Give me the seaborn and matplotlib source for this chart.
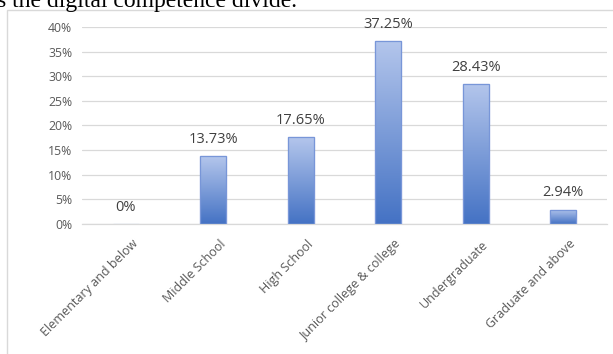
import numpy as np
import pandas as pd
import matplotlib
matplotlib.use("Agg")
import matplotlib.pyplot as plt
import matplotlib.transforms as mtransforms
import seaborn as sns
from matplotlib.colors import LinearSegmentedColormap
from matplotlib.patches import Rectangle

categories = ["Elementary and below", "Middle School", "High School",
              "Junior college & college", "Undergraduate", "Graduate and above"]
shares = [0.0, 13.73, 17.65, 37.25, 28.43, 2.94]
value_labels = ["0%", "13.73%", "17.65%", "37.25%", "28.43%", "2.94%"]
y_ticks = [0, 5, 10, 15, 20, 25, 30, 35, 40]
y_tick_labels = [f"{t}%" for t in y_ticks]
caption = "s the digital competence divide."

sns.set_theme(style="white")
plt.rcParams["font.family"] = ["Open Sans", "DejaVu Sans"]

W, H = 613, 354
fig = plt.figure(figsize=(W / 100, H / 100), dpi=100)
ax = fig.add_axes([82 / W, (H - 224) / H, (607 - 82) / W, (224 - 27) / H])

df = pd.DataFrame({"level": categories, "share": shares})
sns.barplot(data=df, x="level", y="share", ax=ax, width=0.30,
            color="#4472c4", edgecolor="#6f8fd4", linewidth=0.8,
            saturation=1, zorder=2)

# vertical gradient fill clipped to each bar
grad = LinearSegmentedColormap.from_list("bar", ["#4472c4", "#b4c6ec"])
gradient = np.linspace(0, 1, 256).reshape(-1, 1)
for patch in ax.patches:
    x0, y0 = patch.get_x(), patch.get_y()
    w, h = patch.get_width(), patch.get_height()
    if h <= 0:
        continue
    im = ax.imshow(gradient, cmap=grad, aspect="auto", origin="lower",
                   extent=[x0, x0 + w, y0, y0 + h], zorder=2.5,
                   interpolation="bicubic")
    im.set_clip_path(patch)
    edge = Rectangle((x0, y0), w, h, fill=False, edgecolor="#7896d8",
                     linewidth=0.9, zorder=3)
    ax.add_patch(edge)

ax.set_xlim(-0.5, len(categories) - 0.5)
ax.set_ylim(0, 40)
ax.set_yticks(y_ticks)
ax.set_yticklabels(y_tick_labels, color="#595959", fontsize=8.8)
ax.yaxis.grid(True, color="#d9d9d9", linewidth=0.9, zorder=0)
ax.set_axisbelow(True)
ax.tick_params(axis="y", length=0, pad=7)
ax.tick_params(axis="x", length=0, pad=4)
ax.set_xticks(range(len(categories)))
ax.set_xticklabels(categories, rotation=45, ha="right",
                   rotation_mode="anchor", color="#595959", fontsize=9)
shift = mtransforms.ScaledTranslation(6 / 100, -8 / 100, fig.dpi_scale_trans)
for lbl in ax.get_xticklabels():
    lbl.set_transform(lbl.get_transform() + shift)
ax.set_xlabel("")
ax.set_ylabel("")
for side in ["top", "right", "left"]:
    ax.spines[side].set_visible(False)
ax.spines["bottom"].set_color("#d9d9d9")
ax.spines["bottom"].set_linewidth(0.9)

for i, (v, lab) in enumerate(zip(shares, value_labels)):
    ax.annotate(lab, (i, v), xytext=(0, 6.5), textcoords="offset points",
                ha="center", va="bottom", color="#404040", fontsize=10.5)

# chart frame
fig.patches.append(Rectangle((7 / W, -0.1), 1.0, (H - 10) / H + 0.1,
                             transform=fig.transFigure, fill=False,
                             edgecolor="#d9d9d9", linewidth=1.0))

# running text line from the surrounding page
fig.text(-3 / W, (H - 7) / H, caption, fontsize=17, va="baseline", ha="left",
         family=["Liberation Serif", "DejaVu Serif"], color="black")

fig.savefig("out.png", dpi=100)
